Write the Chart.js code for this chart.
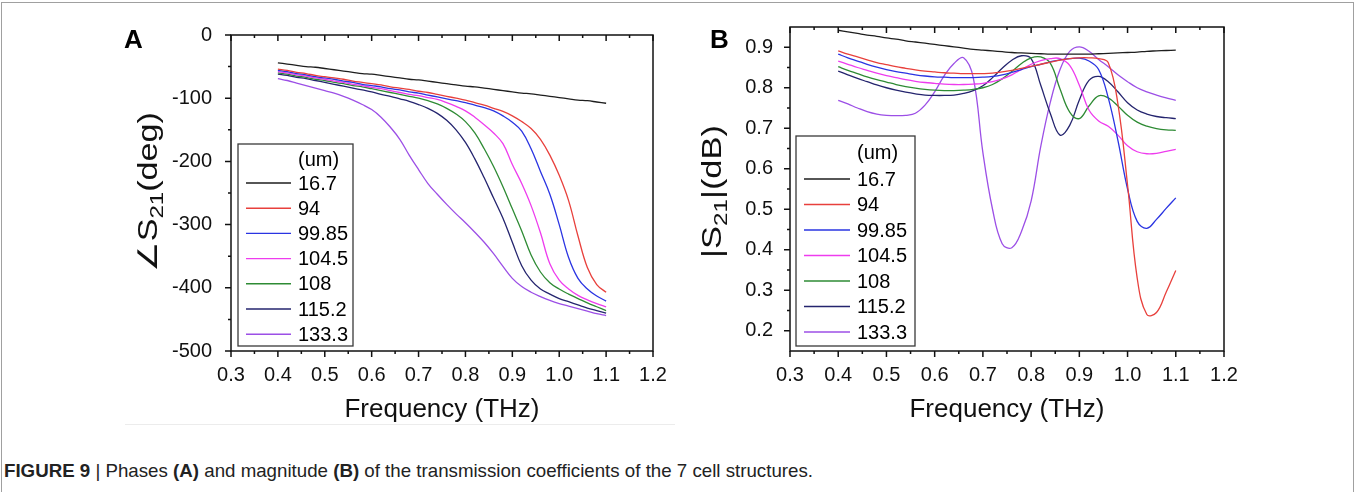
<!DOCTYPE html>
<html>
<head>
<meta charset="utf-8">
<script src="https://cdn.jsdelivr.net/npm/chart.js@4.4.1/dist/chart.umd.min.js"></script>
<style>
html,body{margin:0;padding:0;background:#fff;}
body{width:1356px;height:492px;position:relative;overflow:hidden;font-family:"Liberation Sans",Arial,sans-serif;}
#frame{position:absolute;left:1px;top:2px;width:1353px;height:520px;border:1px solid #a0a0a0;box-sizing:border-box;}
#ca{position:absolute;left:0;top:0;}
#cb{position:absolute;left:680px;top:0;}
.plab{position:absolute;font-weight:bold;font-size:26px;line-height:26px;color:#000;}
#under{position:absolute;left:125px;top:424px;width:550px;height:1px;background:#ececec;}
#cap{position:absolute;left:4px;top:461px;font-size:18.5px;line-height:20px;color:#222;white-space:nowrap;transform-origin:0 50%;font-family:"Liberation Sans Narrow","Liberation Sans",Arial,sans-serif;}
</style>
</head>
<body>
<div id="frame"></div>
<div id="under"></div>
<canvas id="ca" width="680" height="440"></canvas>
<canvas id="cb" width="676" height="440"></canvas>
<div class="plab" style="left:124px;top:26px;">A</div>
<div class="plab" style="left:710px;top:26px;">B</div>
<div id="cap"><b>FIGURE 9</b> | Phases <b>(A)</b> and magnitude <b>(B)</b> of the transmission coefficients of the 7 cell structures.</div>
<script>
// ---------- data ----------
const freq = [0.40,0.42,0.44,0.46,0.48,0.50,0.52,0.54,0.56,0.58,0.60,0.62,0.64,0.66,0.68,0.70,0.72,0.74,0.76,0.78,0.80,0.82,0.84,0.86,0.88,0.90,0.92,0.94,0.96,0.98,1.00,1.02,1.04,1.06,1.08,1.10];
const seriesLabels = ['16.7','94','99.85','104.5','108','115.2','133.3'];
const legendTitle = '(um)';
const xTicks = [0.3,0.4,0.5,0.6,0.7,0.8,0.9,1.0,1.1,1.2];
const yTicksA = [0,-100,-200,-300,-400,-500];
const yTicksB = [0.2,0.3,0.4,0.5,0.6,0.7,0.8,0.9];

// Panel A: phase of S21 (deg)
const phase167  = [-44,-46,-48,-50,-51,-53,-55,-57,-59,-61,-62,-64,-66,-68,-70,-71,-73,-75,-77,-79,-81,-82,-84,-86,-88,-90,-92,-93,-95,-97,-99,-101,-103,-104,-106,-108];
const phase94   = [-54,-56,-59,-61,-64,-66,-68,-70,-73,-75,-77,-79,-82,-84,-86,-89,-91,-94,-97,-100,-103,-107,-111,-116,-121,-128,-137,-148,-165,-190,-222,-262,-318,-368,-395,-407];
const phase9985 = [-56,-58,-61,-63,-66,-68,-70,-73,-75,-78,-80,-82,-85,-87,-90,-92,-95,-98,-101,-104,-107,-111,-115,-120,-128,-138,-152,-180,-216,-252,-300,-352,-385,-402,-413,-421];
const phase1045 = [-58,-60,-63,-65,-68,-70,-73,-75,-78,-80,-83,-85,-88,-91,-94,-96,-99,-102,-107,-113,-120,-130,-142,-155,-172,-205,-235,-270,-313,-362,-388,-402,-412,-419,-425,-430];
const phase108  = [-60,-62,-65,-67,-70,-72,-75,-77,-80,-82,-85,-88,-91,-94,-97,-100,-104,-109,-116,-125,-137,-155,-180,-208,-240,-275,-310,-348,-375,-392,-402,-410,-417,-424,-430,-436];
const phase1152 = [-62,-64,-67,-69,-72,-75,-78,-81,-84,-87,-90,-94,-97,-101,-105,-110,-116,-124,-135,-150,-170,-196,-226,-258,-290,-328,-365,-388,-402,-410,-417,-422,-427,-432,-436,-440];
const phase1333 = [-69,-72,-76,-80,-84,-88,-92,-97,-103,-110,-118,-130,-146,-165,-190,-213,-235,-252,-268,-283,-297,-312,-328,-346,-366,-385,-398,-407,-414,-420,-425,-429,-433,-437,-441,-444];

// Panel B: |S21|
const mag167  = [.942,.938,.934,.930,.927,.923,.920,.916,.913,.910,.907,.904,.901,.898,.895,.893,.891,.889,.887,.886,.885,.884,.883,.883,.883,.883,.883,.884,.885,.886,.887,.888,.890,.891,.892,.893];
const mag94   = [.891,.883,.876,.869,.862,.857,.852,.848,.844,.841,.839,.837,.836,.835,.835,.835,.836,.839,.843,.848,.853,.858,.863,.868,.872,.874,.874,.872,.862,.760,.560,.330,.240,.245,.295,.349];
const mag9985 = [.883,.874,.866,.858,.851,.845,.840,.836,.832,.829,.827,.826,.825,.825,.825,.826,.828,.832,.838,.845,.852,.858,.864,.869,.872,.873,.866,.845,.775,.670,.550,.470,.453,.475,.502,.528];
const mag1045 = [.866,.858,.850,.843,.836,.830,.825,.820,.816,.813,.811,.809,.808,.808,.809,.811,.815,.822,.832,.845,.858,.867,.872,.872,.855,.806,.745,.718,.705,.683,.657,.642,.637,.638,.643,.648];
const mag108  = [.852,.843,.835,.827,.820,.814,.808,.803,.799,.796,.794,.793,.793,.794,.796,.800,.808,.822,.840,.860,.874,.876,.860,.797,.740,.724,.755,.780,.775,.755,.732,.715,.705,.699,.696,.695];
const mag1152 = [.841,.832,.823,.815,.807,.800,.794,.789,.785,.782,.781,.781,.782,.786,.793,.805,.825,.848,.868,.879,.872,.806,.736,.683,.707,.770,.818,.828,.815,.790,.763,.745,.735,.729,.726,.724];
const mag1333 = [.769,.760,.750,.741,.735,.732,.731,.732,.737,.757,.790,.830,.860,.874,.825,.640,.500,.415,.405,.445,.520,.655,.765,.845,.890,.901,.890,.870,.852,.832,.815,.800,.790,.782,.775,.769];

const colors = ['#1e1e1e','#e8403c','#2a34e2','#ee3cee','#2e8b34','#24246e','#9c4fe6'];

// ---------- plugins ----------
const frameTicks = {
  id: 'frameTicks',
  afterDraw(chart, _a, o) {
    const {ctx, chartArea: ca, scales: {x, y}} = chart;
    ctx.save();
    ctx.strokeStyle = o.color;
    ctx.lineWidth = o.width;
    ctx.strokeRect(ca.left, ca.top, ca.right - ca.left, ca.bottom - ca.top);
    const minorsOf = (scale) => {
      const v = scale.ticks.map(t => t.value);
      const out = [];
      for (let i = 0; i < v.length - 1; i++) out.push((v[i] + v[i + 1]) / 2);
      const st = v[1] - v[0];
      const lo = Math.min(scale.min, scale.max), hi = Math.max(scale.min, scale.max);
      [v[0] - st / 2, v[v.length - 1] + st / 2].forEach(m => { if (m > lo + 1e-6 && m < hi - 1e-6) out.push(m); });
      return out;
    };
    ctx.beginPath();
    const xMaj = x.ticks.map(t => t.value), xMin = minorsOf(x);
    const yMaj = y.ticks.map(t => t.value), yMin = minorsOf(y);
    const hx = (vals, len) => vals.forEach(v => {
      const p = x.getPixelForValue(v);
      ctx.moveTo(p, ca.bottom); ctx.lineTo(p, ca.bottom + len);
      ctx.moveTo(p, ca.top); ctx.lineTo(p, ca.top + len);
    });
    const vy = (vals, len) => vals.forEach(v => {
      const p = y.getPixelForValue(v);
      ctx.moveTo(ca.left, p); ctx.lineTo(ca.left - len, p);
    });
    hx(xMaj, o.major); hx(xMin, o.minor);
    vy(yMaj, o.major); vy(yMin, o.minor);
    ctx.stroke();
    ctx.restore();
  }
};

const boxLegend = {
  id: 'boxLegend',
  afterDraw(chart, _a, o) {
    const ctx = chart.ctx;
    ctx.save();
    ctx.fillStyle = '#fff';
    ctx.fillRect(o.left, o.top, o.width, o.height);
    ctx.strokeStyle = '#3a3a3a';
    ctx.lineWidth = 1.3;
    ctx.strokeRect(o.left, o.top, o.width, o.height);
    ctx.font = o.fontSize + "px 'Liberation Sans', Arial, sans-serif";
    ctx.fillStyle = '#000';
    ctx.textBaseline = 'middle';
    ctx.textAlign = 'left';
    ctx.fillText(o.title, o.textX, o.titleY);
    chart.data.datasets.forEach((ds, i) => {
      const yy = o.firstY + i * o.rowH;
      ctx.strokeStyle = ds.borderColor;
      ctx.lineWidth = 1.4;
      ctx.beginPath();
      ctx.moveTo(o.lineX0, yy); ctx.lineTo(o.lineX1, yy);
      ctx.stroke();
      ctx.fillText(ds.label, o.textX, yy + 1);
    });
    ctx.restore();
  }
};

// vertical axis title with a real subscript, stretched along its length
const yTitle = {
  id: 'yTitle',
  afterDraw(chart, _a, o) {
    const ctx = chart.ctx;
    const fam = "'Liberation Sans', 'DejaVu Sans', Arial, sans-serif";
    const fMain = o.size + 'px ' + fam;
    const fSub = Math.round(o.size * 0.72) + 'px ' + fam;
    ctx.save();
    let total = 0;
    const parts = o.parts.map(p => {
      ctx.font = p.sub ? fSub : fMain;
      const w = ctx.measureText(p.t).width;
      total += w;
      return {t: p.t, sub: p.sub, w};
    });
    const sx = o.length / total;
    ctx.translate(o.baseX, o.startY);
    ctx.rotate(-Math.PI / 2);
    ctx.scale(sx, 1);
    ctx.fillStyle = o.color;
    ctx.textBaseline = 'alphabetic';
    ctx.textAlign = 'left';
    let xx = 0;
    parts.forEach(p => {
      ctx.font = p.sub ? fSub : fMain;
      ctx.fillText(p.t, xx, p.sub ? o.size * 0.22 : 0);
      xx += p.w;
    });
    ctx.restore();
  }
};

Chart.defaults.font.family = "'Liberation Sans', Arial, sans-serif";
Chart.defaults.color = '#000';

function makeDatasets(arrs) {
  return arrs.map((arr, i) => ({
    label: seriesLabels[i],
    data: freq.map((f, k) => ({x: f, y: arr[k]})),
    borderColor: colors[i],
    backgroundColor: colors[i],
    borderWidth: 1.3,
    pointRadius: 0,
    tension: 0.4,
    fill: false
  }));
}

function makeChart(el, cfg) {
  return new Chart(el, {
    type: 'line',
    data: {datasets: makeDatasets(cfg.series)},
    options: {
      responsive: false,
      animation: false,
      devicePixelRatio: 1,
      layout: {padding: cfg.padding},
      scales: {
        x: {
          type: 'linear', min: 0.3, max: 1.2,
          afterBuildTicks: s => { s.ticks = xTicks.map(v => ({value: v})); },
          afterFit: s => { s.height = 80; s.paddingLeft = 0; s.paddingRight = 0; },
          grid: {display: false},
          border: {display: false},
          ticks: {autoSkip: false, maxRotation: 0, padding: 4, font: {size: 20}, color: '#111',
                  callback: v => Number(v).toFixed(1)},
          title: {display: true, text: 'Frequency (THz)', font: {size: 26}, color: '#111', padding: {top: 0, bottom: 6}}
        },
        y: {
          type: 'linear', min: cfg.yMin, max: cfg.yMax,
          afterBuildTicks: s => { s.ticks = cfg.yTicks.map(v => ({value: v})); },
          afterFit: s => { s.width = cfg.yWidth; s.paddingTop = 0; s.paddingBottom = 0; },
          grid: {display: false},
          border: {display: false},
          ticks: {padding: cfg.yPad, font: {size: 20}, color: '#111', callback: cfg.yFmt},
          title: {display: false}
        }
      },
      plugins: {
        legend: {display: false},
        tooltip: {enabled: false},
        frameTicks: {color: '#111', width: 1.5, major: 6, minor: 3},
        boxLegend: cfg.legend,
        yTitle: cfg.yTitle
      }
    },
    plugins: [frameTicks, boxLegend, yTitle]
  });
}

makeChart(document.getElementById('ca'), {
  series: [phase167, phase94, phase9985, phase1045, phase108, phase1152, phase1333],
  padding: {left: 100, right: 27, top: 35, bottom: 9},
  yMin: -500, yMax: 0, yTicks: yTicksA, yWidth: 131, yPad: 11,
  yFmt: v => String(v),
  yTitle: {parts: [{t: '\u2220S', sub: false}, {t: '21', sub: true}, {t: '(deg)', sub: false}],
           size: 27, length: 160, baseX: 157, startY: 272, color: '#111'},
  legend: {left: 238, top: 144, width: 115, height: 202, fontSize: 20, title: legendTitle,
           titleY: 160, firstY: 183, rowH: 25.2, lineX0: 246, lineX1: 291, textX: 298}
});

makeChart(document.getElementById('cb'), {
  series: [mag167, mag94, mag9985, mag1045, mag108, mag1152, mag1333],
  padding: {left: 5, right: 132, top: 27, bottom: 9},
  yMin: 0.15, yMax: 0.95, yTicks: yTicksB, yWidth: 105, yPad: 9,
  yFmt: v => Number(v).toFixed(1),
  yTitle: {parts: [{t: '|S', sub: false}, {t: '21', sub: true}, {t: '|(dB)', sub: false}],
           size: 27, length: 133, baseX: 41, startY: 258, color: '#111'},
  legend: {left: 116, top: 136, width: 119, height: 210, fontSize: 20, title: legendTitle,
           titleY: 153.5, firstY: 179, rowH: 25.5, lineX0: 124, lineX1: 170, textX: 177}
});

function fitCaption() {
  const cap = document.getElementById('cap');
  cap.style.transform = 'none';
  const w = cap.getBoundingClientRect().width;
  if (w > 0) cap.style.transform = 'scaleX(' + (809 / w) + ')';
}
fitCaption();
if (document.fonts && document.fonts.ready) document.fonts.ready.then(fitCaption);
</script>
</body>
</html>
